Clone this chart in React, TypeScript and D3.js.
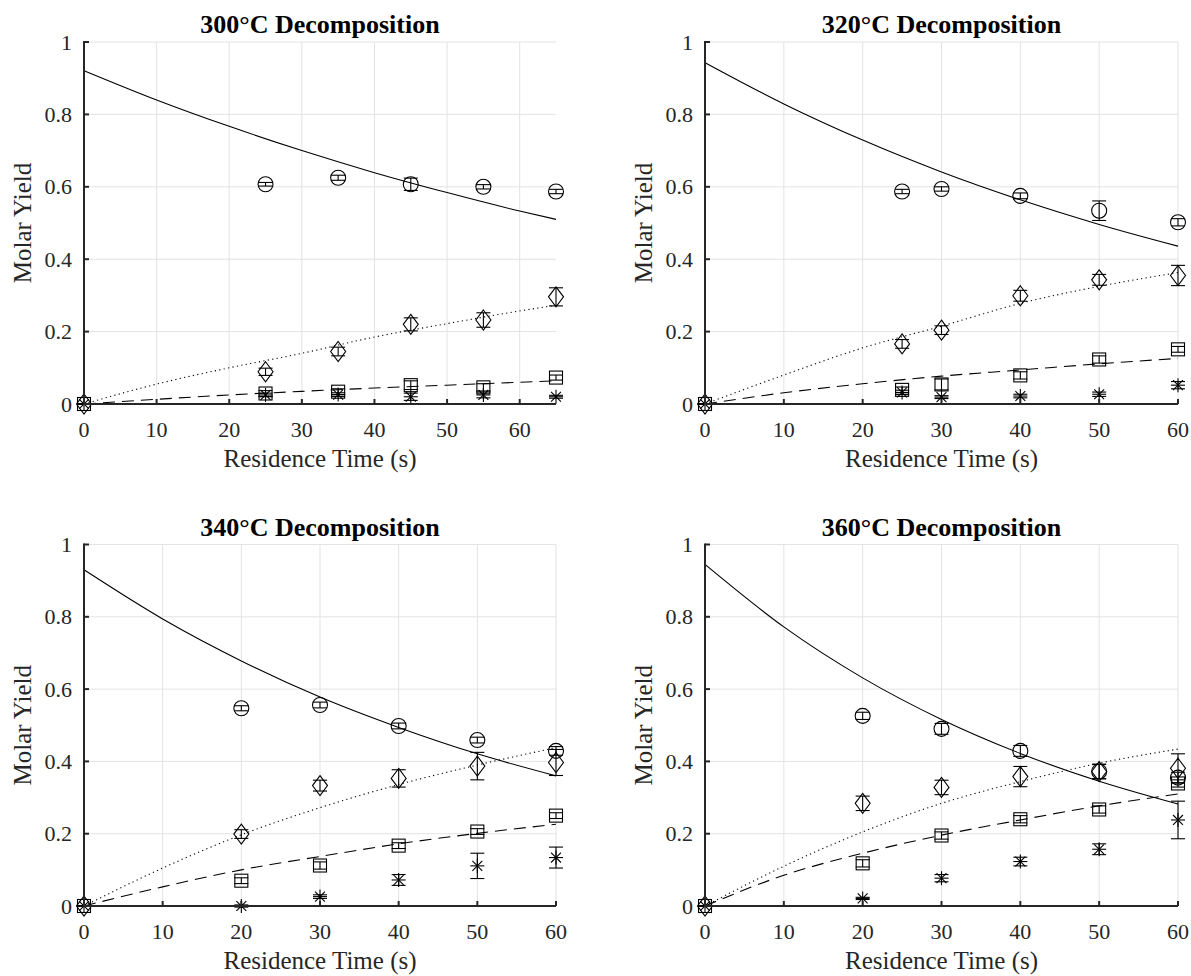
import React from 'react';
import * as d3 from 'd3';

const TITLES = ['300°C Decomposition', '320°C Decomposition', '340°C Decomposition', '360°C Decomposition'];
const X_MAX = [65, 60, 60, 60];
const X_TICKS = [0, 10, 20, 30, 40, 50, 60];
const Y_TICKS = [0, 0.2, 0.4, 0.6, 0.8, 1];

// measured points (t = 0 has no circle marker)
const T_300 = [0, 25, 35, 45, 55, 65];
const CIRC_300 = [NaN, 0.607, 0.625, 0.607, 0.600, 0.587];
const CIRC_ERR_300 = [0, 0.005, 0.007, 0.017, 0.006, 0.006];
const DIAM_300 = [0, 0.089, 0.145, 0.220, 0.232, 0.296];
const DIAM_ERR_300 = [0, 0.010, 0.012, 0.018, 0.020, 0.025];
const SQ_300 = [0, 0.029, 0.034, 0.052, 0.046, 0.073];
const SQ_ERR_300 = [0, 0.008, 0.008, 0.012, 0.010, 0.007];
const STAR_300 = [0, 0.025, 0.026, 0.020, 0.025, 0.020];
const STAR_ERR_300 = [0, 0.005, 0.005, 0.010, 0.008, 0.004];

const T_320 = [0, 25, 30, 40, 50, 60];
const CIRC_320 = [NaN, 0.587, 0.594, 0.575, 0.534, 0.502];
const CIRC_ERR_320 = [0, 0.006, 0.006, 0.008, 0.027, 0.010];
const DIAM_320 = [0, 0.166, 0.204, 0.299, 0.343, 0.355];
const DIAM_ERR_320 = [0, 0.012, 0.012, 0.015, 0.015, 0.028];
const SQ_320 = [0, 0.039, 0.054, 0.079, 0.123, 0.151];
const SQ_ERR_320 = [0, 0.008, 0.015, 0.010, 0.010, 0.008];
const STAR_320 = [0, 0.032, 0.019, 0.022, 0.027, 0.052];
const STAR_ERR_320 = [0, 0.006, 0.004, 0.005, 0.006, 0.010];

const T_340 = [0, 20, 30, 40, 50, 60];
const CIRC_340 = [NaN, 0.547, 0.556, 0.498, 0.459, 0.429];
const CIRC_ERR_340 = [0, 0.007, 0.008, 0.008, 0.008, 0.012];
const DIAM_340 = [0, 0.199, 0.333, 0.353, 0.387, 0.397];
const DIAM_ERR_340 = [0, 0.012, 0.015, 0.024, 0.038, 0.036];
const SQ_340 = [0, 0.070, 0.112, 0.167, 0.206, 0.250];
const SQ_ERR_340 = [0, 0.008, 0.010, 0.008, 0.008, 0.008];
const STAR_340 = [0, 0.000, 0.026, 0.072, 0.111, 0.134];
const STAR_ERR_340 = [0, 0.003, 0.005, 0.015, 0.035, 0.029];

const T_360 = [0, 20, 30, 40, 50, 60];
const CIRC_360 = [NaN, 0.526, 0.490, 0.429, 0.372, 0.355];
const CIRC_ERR_360 = [0, 0.010, 0.015, 0.015, 0.020, 0.015];
const DIAM_360 = [0, 0.284, 0.328, 0.358, 0.372, 0.381];
const DIAM_ERR_360 = [0, 0.020, 0.020, 0.028, 0.020, 0.040];
const SQ_360 = [0, 0.118, 0.195, 0.240, 0.267, 0.339];
const SQ_ERR_360 = [0, 0.010, 0.010, 0.010, 0.010, 0.010];
const STAR_360 = [0, 0.021, 0.077, 0.123, 0.157, 0.238];
const STAR_ERR_360 = [0, 0.003, 0.010, 0.012, 0.015, 0.052];

// fitted model curves
const FIT_T_300 = [0, 10, 20, 30, 40, 50, 60, 65];
const FIT_SOLID_300 = [0.921, 0.840, 0.767, 0.700, 0.639, 0.584, 0.533, 0.510];
const FIT_DOT_300 = [0, 0.055, 0.100, 0.140, 0.185, 0.222, 0.257, 0.273];
const FIT_DASH_300 = [0, 0.013, 0.025, 0.035, 0.044, 0.052, 0.060, 0.064];

const FIT_T = [0, 10, 20, 30, 40, 50, 60];
const FIT_SOLID_320 = [0.943, 0.829, 0.729, 0.641, 0.564, 0.496, 0.436];
const FIT_DOT_320 = [0, 0.080, 0.155, 0.215, 0.278, 0.325, 0.363];
const FIT_DASH_320 = [0, 0.031, 0.056, 0.077, 0.094, 0.111, 0.126];

const FIT_SOLID_340 = [0.930, 0.794, 0.678, 0.578, 0.494, 0.421, 0.360];
const FIT_DOT_340 = [0, 0.105, 0.197, 0.272, 0.336, 0.390, 0.438];
const FIT_DASH_340 = [0, 0.053, 0.100, 0.137, 0.172, 0.201, 0.226];

const FIT_SOLID_360 = [0.945, 0.772, 0.631, 0.516, 0.422, 0.345, 0.282];
const FIT_DOT_360 = [0, 0.110, 0.205, 0.284, 0.344, 0.395, 0.434];
const FIT_DASH_360 = [0, 0.085, 0.146, 0.196, 0.238, 0.277, 0.310];

type Panel = {
  t: number[];
  circ: number[]; circErr: number[];
  diam: number[]; diamErr: number[];
  sq: number[]; sqErr: number[];
  star: number[]; starErr: number[];
  fitT: number[]; solid: number[]; dot: number[]; dash: number[];
};

const PANELS: Panel[] = [
  { t: T_300, circ: CIRC_300, circErr: CIRC_ERR_300, diam: DIAM_300, diamErr: DIAM_ERR_300, sq: SQ_300, sqErr: SQ_ERR_300, star: STAR_300, starErr: STAR_ERR_300, fitT: FIT_T_300, solid: FIT_SOLID_300, dot: FIT_DOT_300, dash: FIT_DASH_300 },
  { t: T_320, circ: CIRC_320, circErr: CIRC_ERR_320, diam: DIAM_320, diamErr: DIAM_ERR_320, sq: SQ_320, sqErr: SQ_ERR_320, star: STAR_320, starErr: STAR_ERR_320, fitT: FIT_T, solid: FIT_SOLID_320, dot: FIT_DOT_320, dash: FIT_DASH_320 },
  { t: T_340, circ: CIRC_340, circErr: CIRC_ERR_340, diam: DIAM_340, diamErr: DIAM_ERR_340, sq: SQ_340, sqErr: SQ_ERR_340, star: STAR_340, starErr: STAR_ERR_340, fitT: FIT_T, solid: FIT_SOLID_340, dot: FIT_DOT_340, dash: FIT_DASH_340 },
  { t: T_360, circ: CIRC_360, circErr: CIRC_ERR_360, diam: DIAM_360, diamErr: DIAM_ERR_360, sq: SQ_360, sqErr: SQ_ERR_360, star: STAR_360, starErr: STAR_ERR_360, fitT: FIT_T, solid: FIT_SOLID_360, dot: FIT_DOT_360, dash: FIT_DASH_360 },
];

const BOXES = [
  { x0: 84, x1: 556, y0: 42, y1: 404 },
  { x0: 705, x1: 1178, y0: 42, y1: 404 },
  { x0: 84, x1: 556, y0: 544.5, y1: 906 },
  { x0: 705, x1: 1178, y0: 544.5, y1: 906 },
];

const FONT = "'Liberation Serif', 'Times New Roman', Times, serif";
const AXIS = '#262626';
const GRID = '#e3e3e3';

function ErrBar({ x, y0, y1, cap = 7 }: { x: number; y0: number; y1: number; cap?: number }) {
  return (
    <g stroke="#000" strokeWidth={1.1}>
      <line x1={x} x2={x} y1={y0} y2={y1} />
      <line x1={x - cap} x2={x + cap} y1={y0} y2={y0} />
      <line x1={x - cap} x2={x + cap} y1={y1} y2={y1} />
    </g>
  );
}

function Marker({ kind, x, y }: { kind: string; x: number; y: number }) {
  const common = { fill: 'none', stroke: '#000', strokeWidth: 1.1 };
  if (kind === 'circle') return <circle cx={x} cy={y} r={7.5} {...common} />;
  if (kind === 'diamond')
    return <path d={`M${x},${y - 10}L${x + 7.5},${y}L${x},${y + 10}L${x - 7.5},${y}Z`} {...common} />;
  if (kind === 'square') return <rect x={x - 6.5} y={y - 6.5} width={13} height={13} {...common} />;
  const r = 7;
  const d = r * 0.7071;
  return (
    <g stroke="#000" strokeWidth={1.1}>
      <line x1={x - r} x2={x + r} y1={y} y2={y} />
      <line x1={x} x2={x} y1={y - r} y2={y + r} />
      <line x1={x - d} x2={x + d} y1={y - d} y2={y + d} />
      <line x1={x - d} x2={x + d} y1={y + d} y2={y - d} />
    </g>
  );
}

const textStyle = (size: number, bold = false) => ({
  fontFamily: FONT,
  fontSize: size + 'px',
  fontWeight: bold ? 700 : 400,
});

function Chart({ idx }: { idx: number }) {
  const p = PANELS[idx];
  const b = BOXES[idx];
  const x = d3.scaleLinear().domain([0, X_MAX[idx]]).range([b.x0, b.x1]);
  const y = d3.scaleLinear().domain([0, 1]).range([b.y1, b.y0]);
  const line = (vals: number[]) =>
    d3.line<number>()
      .x((_, i) => x(p.fitT[i]))
      .y((v) => y(v))
      .curve(d3.curveMonotoneX)(vals) || '';
  const series: [string, number[], number[]][] = [
    ['square', p.sq, p.sqErr],
    ['star', p.star, p.starErr],
    ['diamond', p.diam, p.diamErr],
    ['circle', p.circ, p.circErr],
  ];
  const cx = (b.x0 + b.x1) / 2;
  const cy = (b.y0 + b.y1) / 2;
  return (
    <g>
      <g stroke={GRID} strokeWidth={1}>
        {X_TICKS.filter((t) => t > 0).map((t) => (
          <line key={'gx' + t} x1={x(t)} x2={x(t)} y1={b.y0} y2={b.y1} />
        ))}
        {Y_TICKS.filter((t) => t > 0).map((t) => (
          <line key={'gy' + t} x1={b.x0} x2={b.x1} y1={y(t)} y2={y(t)} />
        ))}
      </g>
      <path d={line(p.solid)} fill="none" stroke="#000" strokeWidth={1.1} />
      <path d={line(p.dot)} fill="none" stroke="#000" strokeWidth={1.1} strokeDasharray="1.2,3.3" />
      <path d={line(p.dash)} fill="none" stroke="#000" strokeWidth={1.1} strokeDasharray="12,7" />
      {series.map(([kind, vals, errs]) =>
        vals.map((v, i) =>
          isNaN(v) ? null : (
            <g key={kind + i}>
              <ErrBar x={x(p.t[i])} y0={y(v - errs[i])} y1={y(v + errs[i])} />
              <Marker kind={kind} x={x(p.t[i])} y={y(v)} />
            </g>
          )
        )
      )}
      <g stroke={AXIS} strokeWidth={2}>
        <line x1={b.x0 - 1} x2={b.x1} y1={b.y1} y2={b.y1} />
        <line x1={b.x0} x2={b.x0} y1={b.y0 - 1} y2={b.y1} />
        {X_TICKS.map((t) => (
          <line key={'tx' + t} x1={x(t)} x2={x(t)} y1={b.y1} y2={b.y1 - 5} />
        ))}
        {Y_TICKS.map((t) => (
          <line key={'ty' + t} x1={b.x0} x2={b.x0 + 5} y1={y(t)} y2={y(t)} />
        ))}
      </g>
      <g fill="#262626">
        {X_TICKS.map((t) => (
          <text key={'lx' + t} x={x(t)} y={b.y1 + 33} textAnchor="middle" style={textStyle(22)}>{t}</text>
        ))}
        {Y_TICKS.map((t) => (
          <text key={'ly' + t} x={b.x0 - 12} y={y(t) + 7.5} textAnchor="end" style={textStyle(22)}>{String(t)}</text>
        ))}
      </g>
      <text x={cx} y={b.y0 - 9} textAnchor="middle" fill="#000" style={textStyle(26, true)}>
        {TITLES[idx]}
      </text>
      <text x={cx} y={b.y1 + 63} textAnchor="middle" fill="#262626" style={textStyle(25)}>
        Residence Time (s)
      </text>
      <text
        transform={`translate(${b.x0 - 53},${cy}) rotate(-90)`}
        textAnchor="middle"
        fill="#262626"
        style={textStyle(25)}
      >
        Molar Yield
      </text>
    </g>
  );
}

export default function App() {
  return (
    <svg width={1191} height={976} style={{ position: 'absolute', left: 0, top: 0, background: '#fff' }}>
      <rect width={1191} height={976} fill="#fff" />
      {[0, 1, 2, 3].map((i) => (
        <Chart key={i} idx={i} />
      ))}
    </svg>
  );
}
